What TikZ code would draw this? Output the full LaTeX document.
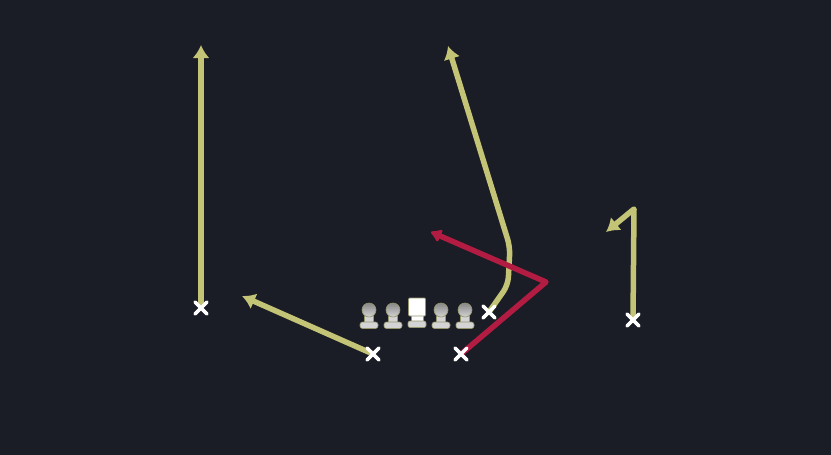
\documentclass[tikz,border=0pt]{standalone}
\usetikzlibrary{positioning, calc}
\usetikzlibrary{shapes.misc, arrows.meta}
\definecolor{field}{RGB}{26,29,37}
\definecolor{routeyellow}{RGB}{196,196,118}
\definecolor{routered}{RGB}{178,28,66}
\definecolor{headgray}{RGB}{135,135,135}
\definecolor{bodygray}{RGB}{212,212,212}
\definecolor{rim}{RGB}{150,150,110}
\tikzstyle{player} = [cross out, draw=white, line width=3.2pt, minimum size=9pt,
    inner sep=0pt, line cap=round]
\tikzstyle{route} = [draw=routeyellow, line width=5.5pt, line join=round,
    -{Latex[length=13pt,width=17pt]}]
\tikzstyle{blitz} = [draw=routered, line width=5.5pt, line join=round,
    -{Latex[round,length=12pt,width=16pt]}]
\tikzstyle{lineman} = [rectangle, minimum width=22pt, minimum height=34pt, inner sep=0pt,
    path picture={
      \coordinate (m) at (path picture bounding box.center);
      \fill[bodygray, draw=rim, line width=0.6pt, rounded corners=1.5pt]
        ($(m)+(-4.5pt,-1pt)$) rectangle ($(m)+(4.5pt,-9pt)$);
      \fill[bodygray, draw=rim, line width=0.6pt, rounded corners=2.5pt]
        ($(m)+(-9pt,-8pt)$) rectangle ($(m)+(9pt,-14.5pt)$);
      \shade[top color=headgray, bottom color=bodygray, draw=rim, line width=0.6pt]
        ($(m)+(0pt,4pt)$) circle (7pt);
    }]
\tikzstyle{snapper} = [rectangle, minimum width=22pt, minimum height=34pt, inner sep=0pt,
    path picture={
      \coordinate (m) at (path picture bounding box.center);
      \fill[white, draw=rim, line width=0.6pt]
        ($(m)+(-6pt,-1pt)$) rectangle ($(m)+(6pt,-8pt)$);
      \fill[bodygray, draw=rim, line width=0.6pt, rounded corners=2pt]
        ($(m)+(-9pt,-7pt)$) rectangle ($(m)+(9pt,-13.5pt)$);
      \fill[white, draw=rim, line width=0.6pt, rounded corners=1pt]
        ($(m)+(-8.5pt,16pt)$) rectangle ($(m)+(8.5pt,-2pt)$);
    }]

\begin{document}
\begin{tikzpicture}[x=1pt, y=-1pt, node distance=24pt]
  \fill[field] (0,0) rectangle (831,455);
  % Place nodes
  \node [snapper] (ctr) at (417,314) {};
  \node [lineman, left of=ctr] (lg) {};
  \node [lineman, left of=lg] (lt) {};
  \node [lineman, right of=ctr] (rg) {};
  \node [lineman, right of=rg] (rt) {};
  \node [player] (wl) at (201,308) {};
  \node [player] (rb) at (373,354) {};
  \node [player] (slot) at (489,312) {};
  \node [player] (te) at (461,354) {};
  \node [player] (wr) at (633,320) {};
  \coordinate (go) at (201,45);
  \coordinate (flat) at (242,296);
  \coordinate (s1) at (508,285);
  \coordinate (s2) at (510,247);
  \coordinate (seam) at (448,46);
  \coordinate (hk) at (634,209);
  \coordinate (hook) at (606,232);
  \coordinate (bz) at (546,282);
  \coordinate (blz) at (431,232);
  % Draw routes
  \path [route] (wl.center) -- (go);
  \path [route] (rb.center) -- (flat);
  \path [route, rounded corners=8pt] (slot.center) -- (s1) -- (s2) -- (seam);
  \path [route] (wr.center) -- (hk) -- (hook);
  \path [blitz] (te.center) -- (bz) -- (blz);
  % Players on top
  \foreach \p in {wl, rb, slot, te, wr}
    \node [player] at (\p) {};
\end{tikzpicture}
\end{document}
